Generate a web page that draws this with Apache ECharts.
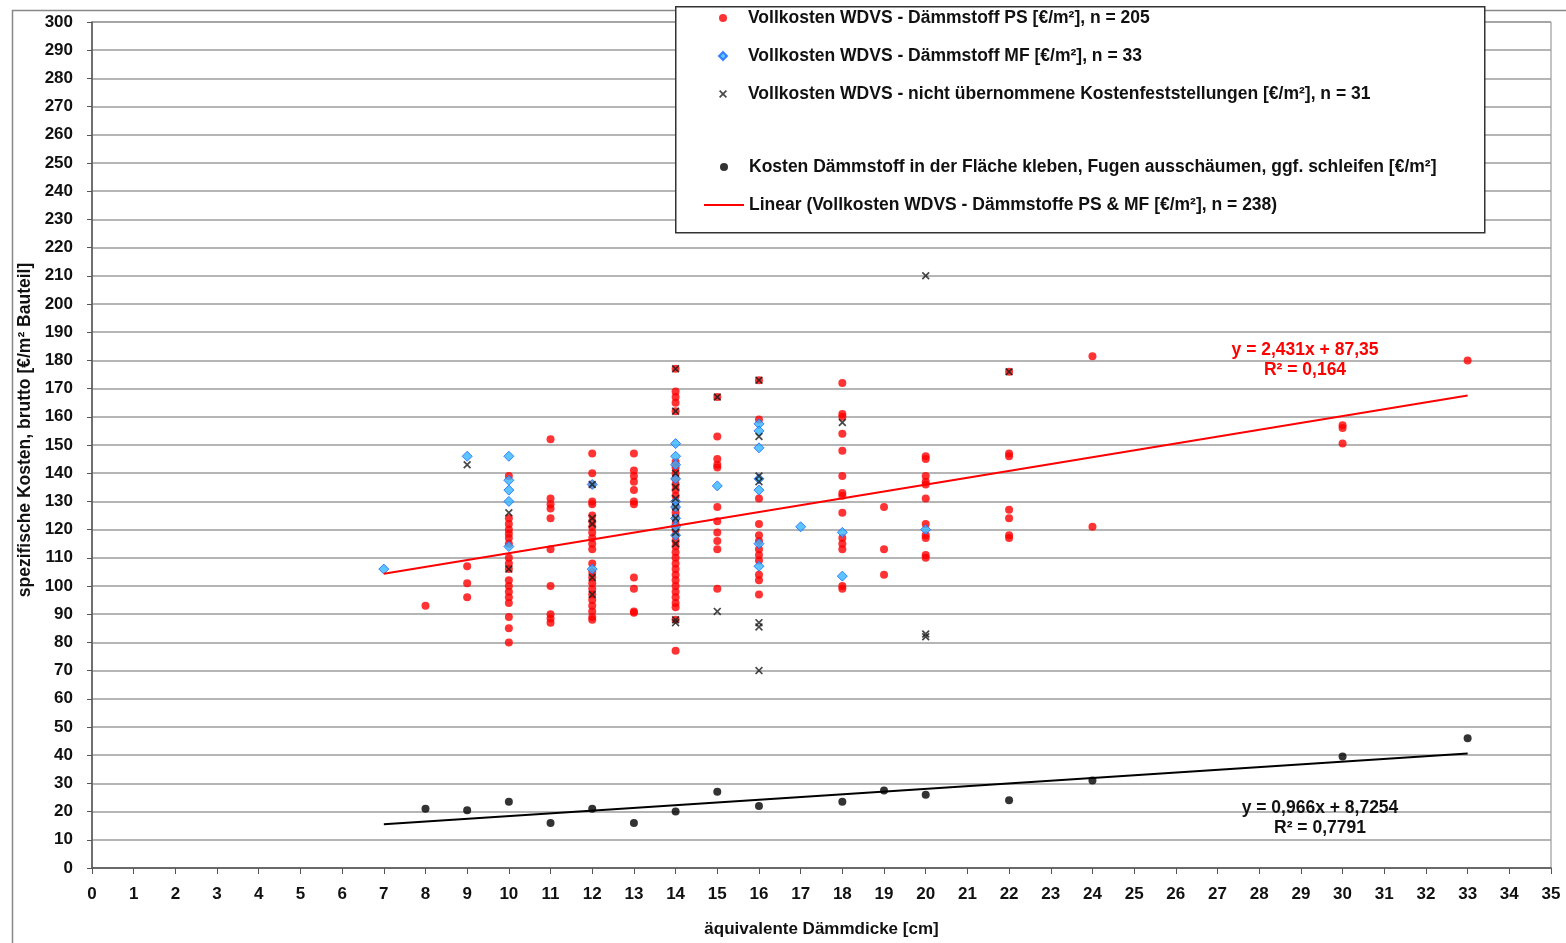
<!DOCTYPE html>
<html>
<head>
<meta charset="utf-8">
<script src="https://cdn.jsdelivr.net/npm/echarts@6/dist/echarts.min.js"></script>
<style>
html,body{margin:0;padding:0;background:#fff;}
#chart{width:1566px;height:943px;}
</style>
</head>
<body>
<div id="chart"></div>
<script>
// ---------- DATA ----------
var xTicks = [0,35,1];          // min, max, interval
var yTicks = [0,300,10];

var psPoints = [
  [8,93],
  [9,107],[9,101],[9,96],
  [10,139],[10,124],[10,122],[10,120],[10,118.5],[10,117],[10,115],[10,110],[10,108],[10,106],[10,102],[10,100],[10,98],[10,96],[10,94],[10,89],[10,85],[10,80],
  [11,152],[11,131],[11,129],[11,127.5],[11,124],[11,113],[11,100],[11,90],[11,88.5],[11,87],
  [12,147],[12,140],[12,136],[12,130],[12,129],[12,125],[12,123],[12,121],[12,119],[12,117],[12,115],[12,113],[12,108],[12,105],[12,103],[12,101],[12,99],[12,97],[12,95],[12,93],[12,91],[12,89],[12,88],
  [13,147],[13,141],[13,139],[13,137],[13,134],[13,130],[13,129],[13,103],[13,99],[13,91],[13,90.5],
  [14,177],[14,169],[14,167],[14,165],[14,162],[14,144],[14,142],[14,140],[14,138],[14,136],[14,134],[14,132],[14,130],[14,128],[14,126],[14,124],[14,122],[14,120],[14,118],[14,116],[14,114],[14,112],[14,110],[14,108],[14,106],[14,104],[14,102],[14,100],[14,98],[14,96],[14,94],[14,92.5],[14,88],[14,77],
  [15,167],[15,153],[15,145],[15,143],[15,142],[15,128],[15,123],[15,119],[15,116],[15,113],[15,99],
  [16,173],[16,159],[16,131],[16,122],[16,118],[16,116],[16,113],[16,111],[16,109],[16,104],[16,102],[16,97],
  [18,172],[18,161],[18,160],[18,154],[18,148],[18,139],[18,133],[18,132],[18,126],[18,117],[18,115],[18,113],[18,100],[18,99],
  [19,128],[19,113],[19,104],
  [20,146],[20,145],[20,139],[20,137],[20,136],[20,131],[20,122],[20,118],[20,117],[20,111],[20,110],
  [22,176],[22,147],[22,146],[22,127],[22,124],[22,118],[22,117],
  [24,181.5],[24,121],
  [30,157],[30,156],[30,150.5],
  [33,180]
];

var mfPoints = [
  [7,106],[9,146],[10,146],[10,137.5],[10,134],[10,130],[10,114],[12,136],[12,106],
  [14,150.5],[14,146],[14,143],[14,138],[14,130],[14,128],[14,124],[14,121],[14,118],
  [15,135.5],[16,157.5],[16,155],[16,149],[16,138],[16,134],[16,115],[16,107],
  [17,121],[18,119],[18,103.5],[20,120]
];

var rejectedPoints = [
  [9,143],[10,126],[10,106],[12,136],[12,124],[12,122],[12,103],[12,97],
  [14,177],[14,162],[14,140],[14,135],[14,131],[14,128],[14,124],[14,119],[14,115],[14,88],[14,87],
  [15,167],[15,91],[16,173],[16,153],[16,139],[16,137],[16,87],[16,85.5],[16,70],
  [18,158],[20,210],[20,83],[20,82],[22,176]
];

var insulationPoints = [
  [8,21],[9,20.5],[10,23.5],[11,16],[12,21],[13,16],[14,20],[15,27],[16,22],
  [18,23.5],[19,27.5],[20,26],[22,24],[24,31],[30,39.5],[33,46]
];

// trend lines as shown in the chart: [slope, intercept], x-range
var trendVoll = [2.431, 87.35];
var trendDaemm = [0.966, 8.7254];
var trendRange = [7, 33];

var names = [
  'Vollkosten WDVS - Dämmstoff PS [€/m²], n = 205',
  'Vollkosten WDVS - Dämmstoff MF [€/m²], n = 33',
  'Vollkosten WDVS - nicht übernommene Kostenfeststellungen [€/m²], n = 31',
  'Kosten Dämmstoff in der Fläche kleben, Fugen ausschäumen, ggf. schleifen [€/m²]',
  'Linear (Vollkosten WDVS - Dämmstoffe PS & MF [€/m²], n = 238)'
];
var eqVoll = ['y = 2,431x + 87,35', 'R² = 0,164'];
var eqDaemm = ['y = 0,966x + 8,7254', 'R² = 0,7791'];

// ---------- CHART ----------
function trendLine(c){ return trendRange.map(function(x){ return [x, c[0]*x + c[1]]; }); }

var FONT = 'Liberation Sans, Arial, sans-serif';
var xMark = 'path://M0,1.5L1.5,0L5,3.5L8.5,0L10,1.5L6.5,5L10,8.5L8.5,10L5,6.5L1.5,10L0,8.5L3.5,5Z';
var diamondMark = 'path://M5,0L10,5L5,10L0,5Z';
var lineIcon = 'path://M0,0L0.01,0L0,0.01Z M40,8L39.99,8L40,7.99Z M0,3.1H40V4.9H0Z';
var FS = 17;
var LFS = 17.5;

var chart = echarts.init(document.getElementById('chart'));
chart.setOption({
  backgroundColor: '#fff',
  animation: false,
  textStyle: {fontFamily: FONT},
  grid: {left: 92, right: 15, top: 22, bottom: 75, show: true, borderColor: '#888', borderWidth: 1, containLabel: false, outerBoundsMode: 'none'},
  xAxis: {
    type: 'value', min: xTicks[0], max: xTicks[1], interval: xTicks[2],
    name: 'äquivalente Dämmdicke [cm]', nameLocation: 'middle', nameGap: 53,
    nameTextStyle: {fontFamily: FONT, fontWeight: 'bold', fontSize: FS, color: '#111'},
    axisLine: {lineStyle: {color: '#555', width: 1.5}},
    axisTick: {length: 6, lineStyle: {color: '#555'}},
    axisLabel: {fontFamily: FONT, fontWeight: 'bold', fontSize: FS, color: '#111', margin: 18},
    splitLine: {show: false}
  },
  yAxis: {
    type: 'value', min: yTicks[0], max: yTicks[1], interval: yTicks[2],
    name: 'spezifische Kosten, brutto [€/m² Bauteil]', nameLocation: 'middle', nameGap: 53, nameRotate: 90,
    nameTextStyle: {fontFamily: FONT, fontWeight: 'bold', fontSize: 17.5, color: '#111', padding: [0, 0, 0, 30]},
    axisLine: {show: true, lineStyle: {color: '#555', width: 1.5}},
    axisTick: {show: true, length: 5, lineStyle: {color: '#555'}},
    axisLabel: {fontFamily: FONT, fontWeight: 'bold', fontSize: FS, color: '#111', margin: 19},
    splitLine: {show: true, lineStyle: {color: '#9c9c9c', width: 1.5}}
  },
  legend: [
    {
      orient: 'vertical', left: 713, top: 4, itemWidth: 40, itemHeight: 8, itemGap: 20, z: 20,
      textStyle: {fontFamily: FONT, fontWeight: 'bold', fontSize: LFS, color: '#111', lineHeight: 17.5},
      data: [names[0], names[1], names[2]]
    },
    {
      orient: 'vertical', left: 699, top: 153, itemWidth: 40, itemHeight: 8, itemGap: 20, z: 20,
      textStyle: {fontFamily: FONT, fontWeight: 'bold', fontSize: LFS, color: '#111', lineHeight: 17.5},
      data: [names[3], {name: names[4], icon: lineIcon}]
    }
  ],
  graphic: [
    {type: 'rect', left: 10, top: 8, shape: {width: 1600, height: 1000}, style: {fill: 'none', stroke: '#888', lineWidth: 1.5}, silent: true, z: -10},
    {type: 'rect', left: 675, top: 6, shape: {width: 809, height: 226}, style: {fill: '#fff', stroke: '#333', lineWidth: 1.5}, silent: true, z: 1},
    {type: 'text', x: 1305, y: 360, style: {text: eqVoll[0] + '\n' + eqVoll[1], fill: '#ff0000', font: 'bold 17.5px ' + FONT, align: 'center', verticalAlign: 'middle', lineHeight: 20}, z: 10},
    {type: 'text', x: 1320, y: 818, style: {text: eqDaemm[0] + '\n' + eqDaemm[1], fill: '#111', font: 'bold 17.5px ' + FONT, align: 'center', verticalAlign: 'middle', lineHeight: 20}, z: 10}
  ],
  series: [
    {name: names[0], type: 'scatter', data: psPoints, symbol: 'circle', symbolSize: 8, itemStyle: {color: '#ff0000'}, z: 2},
    {name: names[1], type: 'scatter', data: mfPoints, symbol: diamondMark, symbolSize: 10, symbolKeepAspect: true, itemStyle: {color: '#33b5ff', borderColor: '#1a66ff', borderWidth: 1}, z: 3},
    {name: names[2], type: 'scatter', data: rejectedPoints, symbol: xMark, symbolSize: 8, symbolKeepAspect: true, itemStyle: {color: '#1a1a1a'}, z: 4},
    {name: names[3], type: 'scatter', data: insulationPoints, symbol: 'circle', symbolSize: 8, itemStyle: {color: '#000'}, z: 4},
    {name: names[4], type: 'line', data: trendLine(trendVoll), symbol: 'none', lineStyle: {color: '#ff0000', width: 2}, itemStyle: {color: '#ff0000'}, z: 5},
    {name: 'Linear Dämmstoff', type: 'line', data: trendLine(trendDaemm), symbol: 'none', lineStyle: {color: '#000', width: 2}, itemStyle: {color: '#000'}, z: 5}
  ]
});
</script>
</body>
</html>
